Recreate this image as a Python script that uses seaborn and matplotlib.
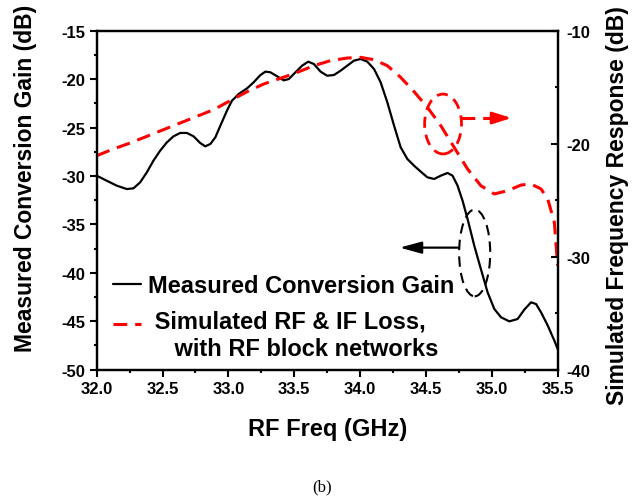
import matplotlib
matplotlib.use("Agg")
import matplotlib.pyplot as plt
import seaborn as sns
import pandas as pd
from matplotlib.patches import Ellipse
from matplotlib.lines import Line2D
from matplotlib.ticker import MultipleLocator, FormatStrFormatter

# ---- data ----
freq_meas = [32.000, 32.076, 32.152, 32.228, 32.279, 32.330, 32.381, 32.431, 32.482, 32.533,
             32.583, 32.634, 32.685, 32.736, 32.786, 32.824, 32.863, 32.901, 32.939, 32.989,
             33.027, 33.078, 33.142, 33.192, 33.243, 33.281, 33.319, 33.370, 33.421, 33.459,
             33.509, 33.560, 33.606, 33.649, 33.700, 33.750, 33.801, 33.852, 33.903, 33.953,
             34.004, 34.055, 34.106, 34.156, 34.207, 34.258, 34.308, 34.359, 34.410, 34.461,
             34.511, 34.562, 34.613, 34.664, 34.702, 34.740, 34.778, 34.816, 34.867, 34.917,
             34.968, 35.019, 35.070, 35.133, 35.196, 35.247, 35.298, 35.336, 35.374, 35.425,
             35.475, 35.500]
gain_meas = [-29.97, -30.49, -31.00, -31.35, -31.28, -30.66, -29.62, -28.42, -27.39, -26.53,
             -25.91, -25.56, -25.56, -25.91, -26.60, -26.94, -26.70, -26.01, -24.81, -23.26,
             -22.23, -21.54, -20.95, -20.33, -19.58, -19.23, -19.30, -19.71, -20.13, -19.99,
             -19.30, -18.61, -18.20, -18.44, -19.23, -19.65, -19.58, -19.13, -18.61, -18.10,
             -17.92, -18.20, -18.96, -20.33, -22.40, -24.81, -27.04, -28.25, -28.94, -29.56,
             -30.14, -30.31, -29.97, -29.69, -29.97, -31.00, -32.55, -34.44, -37.20, -39.60,
             -42.01, -43.73, -44.59, -45.01, -44.77, -43.80, -43.05, -43.22, -44.08, -45.45,
             -47.00, -47.86]

freq_sim = [32.000, 32.127, 32.254, 32.381, 32.507, 32.634, 32.761, 32.888, 33.015, 33.142,
            33.268, 33.395, 33.522, 33.649, 33.776, 33.903, 34.004, 34.106, 34.207, 34.308,
            34.410, 34.511, 34.613, 34.714, 34.816, 34.917, 35.019, 35.120, 35.222, 35.298,
            35.374, 35.425, 35.475, 35.500]
resp_sim = [-21.06, -20.47, -19.94, -19.35, -18.76, -18.17, -17.58, -16.99, -16.19, -15.40,
            -14.72, -14.22, -13.69, -13.10, -12.65, -12.42, -12.36, -12.57, -13.10, -14.13,
            -15.40, -16.78, -18.41, -20.32, -22.24, -23.72, -24.45, -24.16, -23.66, -23.57,
            -24.01, -24.90, -26.96, -30.80]

x_ticks = [32.0, 32.5, 33.0, 33.5, 34.0, 34.5, 35.0, 35.5]
y_left_ticks = [-50, -45, -40, -35, -30, -25, -20, -15]
y_right_ticks = [-40, -30, -20, -10]

label_meas = "Measured Conversion Gain"
label_sim = " Simulated RF & IF Loss,\n    with RF block networks"

df_meas = pd.DataFrame({"freq": freq_meas, "gain": gain_meas})
df_sim = pd.DataFrame({"freq": freq_sim, "resp": resp_sim})

# ---- style ----
sns.set_theme(style="white")
plt.rcParams['font.family'] = ['Liberation Sans', 'DejaVu Sans']
plt.rcParams['font.weight'] = 'bold'
plt.rcParams['axes.unicode_minus'] = False
for key in ('text.color', 'axes.labelcolor', 'xtick.color', 'ytick.color'):
    plt.rcParams[key] = 'black'

fig = plt.figure(figsize=(6.42, 5.02), dpi=100)
ax = fig.add_axes([0.1506, 0.2616, 0.7180, 0.6753])
ax2 = ax.twinx()

dash = (0, (4.5, 2.6))
sns.lineplot(data=df_meas, x="freq", y="gain", ax=ax, color="black", linewidth=1.6,
             sort=False, estimator=None, legend=False)
sns.lineplot(data=df_sim, x="freq", y="resp", ax=ax2, color="red", linewidth=2.2,
             linestyle=dash, sort=False, estimator=None, legend=False)

ax.set_xlim(32, 35.5)
ax.set_ylim(-50, -15)
ax2.set_ylim(-40, -10)
ax.set_xticks(x_ticks)
ax.set_yticks(y_left_ticks)
ax2.set_yticks(y_right_ticks)
ax.xaxis.set_minor_locator(MultipleLocator(0.25))
ax.yaxis.set_minor_locator(MultipleLocator(2.5))
ax2.yaxis.set_minor_locator(MultipleLocator(5))
ax.xaxis.set_major_formatter(FormatStrFormatter('%.1f'))

for a in (ax, ax2):
    for s in a.spines.values():
        s.set_color("black")
        s.set_linewidth(1.6)
        s.set_visible(True)

ax.tick_params(axis='x', which='both', bottom=True, top=False, direction='out',
               colors='black', width=1.5)
ax.tick_params(axis='y', which='both', left=True, right=False, direction='out',
               colors='black', width=1.5)
ax.tick_params(which='major', length=5, labelsize=12, pad=3)
ax.tick_params(which='minor', length=2.5)
ax2.tick_params(axis='y', which='both', right=True, left=False, direction='in',
                colors='black', width=1.5)
ax2.tick_params(which='major', length=5, labelsize=12, pad=6)
ax2.tick_params(which='minor', length=2.5)
for lab in ax.get_xticklabels() + ax.get_yticklabels() + ax2.get_yticklabels():
    lab.set_fontweight('bold')

ax.set_xlabel("RF Freq (GHz)", fontsize=17, fontweight='bold')
ax.set_ylabel("Measured Conversion Gain (dB)", fontsize=16.5, fontweight='bold')
ax2.set_ylabel("Simulated Frequency Response (dB)", fontsize=16.5, fontweight='bold')
ax.xaxis.set_label_coords(0.5, -0.14)
ax.yaxis.set_label_coords(-0.13, 0.566)
ax2.yaxis.set_label_coords(1.105, 0.487)

# ---- annotations ----
ax2.add_patch(Ellipse((34.63, -18.26), 0.28, 5.3, fill=False, edgecolor='red',
                      linewidth=2, linestyle=(0, (4, 2.5))))
ax2.plot([34.77, 35.07], [-17.73, -17.73], color='red', linewidth=2.2, linestyle=dash)
ax2.annotate('', xy=(35.15, -17.73), xytext=(35.05, -17.73),
             arrowprops=dict(arrowstyle='-|>,head_length=0.95,head_width=0.3',
                             color='red', lw=2, shrinkA=0, shrinkB=0))

ax.add_patch(Ellipse((34.87, -37.95), 0.236, 8.95, fill=False, edgecolor='black',
                     linewidth=1.5, linestyle=(0, (5, 3))))
ax.annotate('', xy=(34.30, -37.4), xytext=(34.75, -37.4),
            arrowprops=dict(arrowstyle='-|>,head_length=1.1,head_width=0.3',
                            color='black', lw=1.6, shrinkA=0, shrinkB=0))

# ---- legend ----
handles = [Line2D([], [], color='black', linewidth=1.6),
           Line2D([], [], color='red', linewidth=2.2, linestyle=dash)]
leg = ax.legend(handles, [label_meas, label_sim], loc='upper left',
                bbox_to_anchor=(0.035, 0.281), frameon=False, fontsize=17,
                borderpad=0, borderaxespad=0, handlelength=1.2, handletextpad=0.3,
                labelspacing=0.53)
for t in leg.get_texts():
    t.set_fontweight('bold')
    t.set_color('black')
# align the dashed handle with the first line of its two-line label
red_handle = leg.legend_handles[1]
red_handle.set_ydata([y + 8.6 for y in red_handle.get_ydata()])

fig.text(0.5016, 0.030, "(b)", fontsize=12, family=['Liberation Serif'],
         fontweight='normal', ha='center', va='center', color='black')

fig.savefig("out.png", dpi=100)
